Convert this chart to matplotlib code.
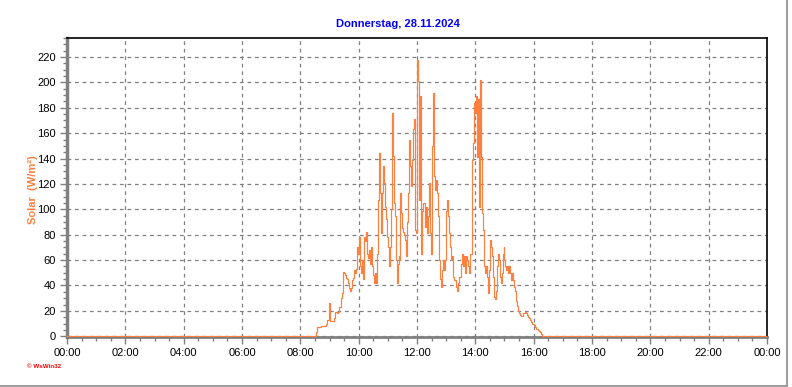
import numpy as np
import matplotlib
matplotlib.use("Agg")
from matplotlib import pyplot as plt
from matplotlib.lines import Line2D
from matplotlib.ticker import MultipleLocator, FuncFormatter

# Solarstrahlung (W/m²), 2-Minuten-Werte ab 08:30
start_min = 8 * 60 + 30
step_min = 2
solar = [0, 3, 7, 7, 7, 7, 8, 8, 8, 8, 8, 10, 13, 13, 26, 23, 12, 12, 12, 12,
         14, 19, 19, 18, 19, 23, 23, 30, 34, 51, 50, 48, 46, 45, 42, 38, 36, 38, 44, 46,
         52, 50, 53, 70, 65, 78, 55, 50, 60, 45, 53, 78, 75, 82, 65, 62, 68, 57, 70, 55,
         48, 42, 50, 42, 65, 107, 144, 113, 81, 113, 134, 121, 102, 92, 78, 70, 55, 70, 100, 176,
         142, 105, 95, 60, 42, 57, 63, 60, 113, 97, 85, 82, 80, 76, 63, 90, 113, 155, 134, 118,
         139, 163, 171, 84, 81, 218, 201, 107, 189, 65, 99, 105, 105, 86, 102, 81, 95, 121, 81, 65,
         150, 192, 139, 126, 115, 123, 113, 95, 60, 45, 39, 52, 60, 52, 60, 99, 107, 95, 81, 70,
         60, 63, 47, 44, 44, 39, 36, 42, 47, 47, 57, 65, 55, 63, 50, 63, 60, 55, 50, 55,
         65, 65, 139, 152, 184, 176, 189, 141, 187, 102, 202, 141, 97, 84, 55, 50, 55, 47, 34, 52,
         76, 70, 63, 47, 31, 29, 36, 55, 65, 60, 47, 42, 50, 65, 70, 60, 55, 52, 55, 50,
         55, 50, 44, 50, 44, 39, 36, 28, 24, 20, 18, 17, 16, 16, 18, 18, 19, 18, 17, 15,
         14, 13, 11, 10, 10, 9, 7, 6, 6, 5, 4, 3, 3, 2, 0]

title = "Donnerstag, 28.11.2024"
ylabel = "Solar  (W/m²)"

orange = "#ff7f3f"
grid_grey = "#808080"

times = [0] + [start_min + i * step_min for i in range(len(solar))] + [1440]
values = [0] + solar + [0]
hours = np.array(times) / 60.0

plt.rcParams['font.family'] = ['Liberation Sans', 'DejaVu Sans']

fig = plt.figure(figsize=(7.92, 3.87), dpi=100)
ax = fig.add_axes([67 / 792, (387 - 337) / 387, 700 / 792, (337 - 38) / 387])

ax.plot(hours, values, color=orange, lw=0.85, drawstyle='steps-post', zorder=3)

ax.set_xlim(0, 24)
ax.set_ylim(-0.6, 235)

ax.xaxis.set_major_locator(MultipleLocator(2))
ax.xaxis.set_minor_locator(MultipleLocator(0.5))
ax.xaxis.set_major_formatter(FuncFormatter(lambda v, p: "%02d:00" % (int(round(v)) % 24)))
ax.yaxis.set_major_locator(MultipleLocator(20))
ax.yaxis.set_minor_locator(MultipleLocator(5))

ax.grid(True, which='major', color=grid_grey, linestyle=(0, (3, 3)), linewidth=0.9)
ax.tick_params(which='major', direction='out', length=5, width=1, color=grid_grey,
               labelsize=8, labelcolor='black', pad=3)
ax.tick_params(which='minor', direction='out', length=3, width=1, color=grid_grey)

for s in ['top', 'right']:
    ax.spines[s].set_color('black')
    ax.spines[s].set_linewidth(1.2)
ax.spines['left'].set_color(grid_grey)
ax.spines['left'].set_linewidth(2.5)
ax.spines['bottom'].set_color(grid_grey)
ax.spines['bottom'].set_linewidth(2)

fig.text(398 / 792, 1 - 24 / 387, title, color='#0000ff', fontsize=8, fontweight='bold',
         ha='center', va='center')
fig.text(32.5 / 792, 1 - 190 / 387, ylabel, color=orange, fontsize=8, fontweight='bold',
         rotation=90, ha='center', va='center')
fig.text(27 / 792, 1 - 367 / 387, "© WsWin32", color='red', fontsize=4.5, fontweight='bold',
         ha='left', va='center')

# grauer Rahmen unten und rechts
fig.add_artist(Line2D([0, 787 / 792], [1 / 387, 1 / 387], color='#a0a0a0', lw=1.5))
fig.add_artist(Line2D([787 / 792, 787 / 792], [1 / 387, 1], color='#a0a0a0', lw=1.5))

fig.savefig("out.png", dpi=100)
